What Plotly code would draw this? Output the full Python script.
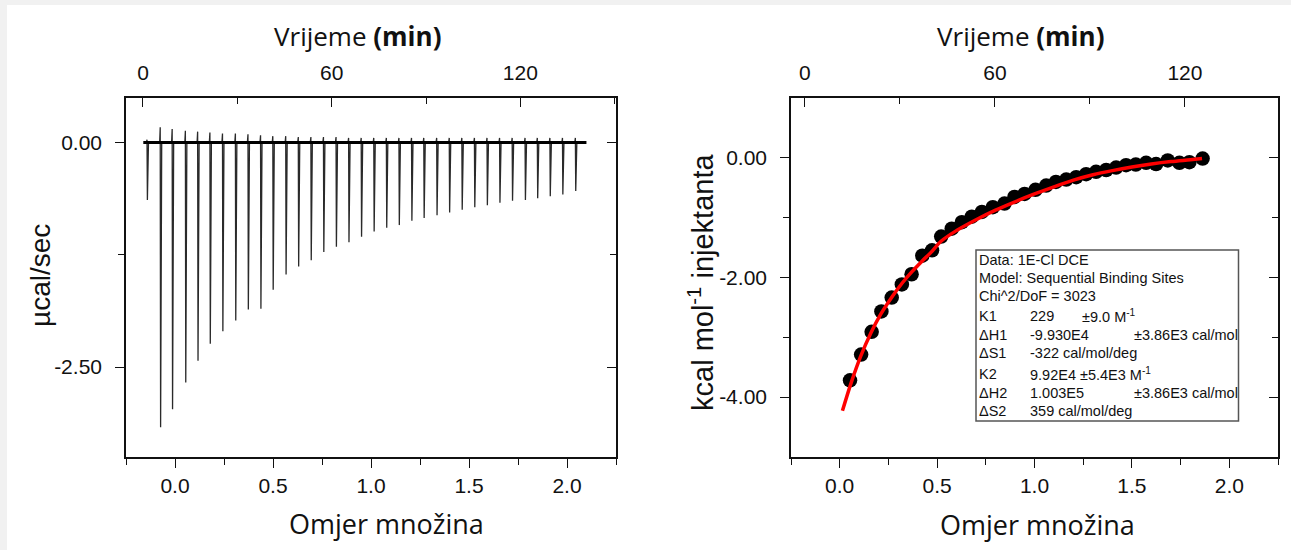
import plotly.graph_objects as go

W, H = 1291, 550

# ---------------- data ----------------
# left panel: raw thermogram (injection times in min, peak extremes in µcal/sec)
inj_time = [1.4, 5.6, 9.4, 13.6, 17.5, 21.4, 25.4, 29.5, 33.5, 37.5, 41.4, 45.5,
            49.5, 53.5, 57.5, 61.5, 65.5, 69.5, 73.5, 77.5, 81.5, 85.5, 89.4, 93.5,
            97.5, 101.5, 105.5, 109.5, 113.5, 117.5, 121.6, 125.5, 129.5, 133.5, 137.6]
inj_down = [-0.64, -3.17, -2.97, -2.67, -2.43, -2.24, -2.10, -1.98, -1.86, -1.85, -1.64, -1.47,
            -1.38, -1.31, -1.22, -1.16, -1.11, -1.05, -0.99, -0.95, -0.92, -0.87, -0.84, -0.81,
            -0.78, -0.75, -0.72, -0.70, -0.67, -0.65, -0.64, -0.62, -0.60, -0.58, -0.54]
inj_up = [0.03, 0.17, 0.15, 0.13, 0.12, 0.11, 0.10, 0.10, 0.09, 0.08, 0.07, 0.07,
          0.06, 0.06, 0.06, 0.06, 0.05, 0.05, 0.05, 0.05, 0.05, 0.05, 0.05, 0.05,
          0.05, 0.05, 0.05, 0.05, 0.05, 0.05, 0.05, 0.05, 0.05, 0.05, 0.05]
baseline_time = [0.1, 141.0]
baseline_val = [0.0, 0.0]

# right panel: integrated heats
ratio = [0.053, 0.110, 0.164, 0.214, 0.267, 0.319, 0.369, 0.424, 0.474, 0.521, 0.575, 0.627,
         0.678, 0.730, 0.786, 0.846, 0.897, 0.949, 1.005, 1.060, 1.110, 1.163, 1.214, 1.265,
         1.316, 1.368, 1.419, 1.470, 1.520, 1.573, 1.624, 1.684, 1.744, 1.795, 1.863]
heat = [-3.72, -3.29, -2.91, -2.57, -2.34, -2.12, -1.95, -1.64, -1.55, -1.32, -1.19, -1.08,
        -0.99, -0.91, -0.83, -0.77, -0.66, -0.61, -0.54, -0.47, -0.41, -0.37, -0.33, -0.28,
        -0.24, -0.21, -0.17, -0.13, -0.12, -0.09, -0.11, -0.05, -0.09, -0.08, -0.02]
fit_x = [0.014, 0.06, 0.11, 0.16, 0.21, 0.27, 0.32, 0.37, 0.42, 0.47, 0.52, 0.60, 0.70,
         0.80, 0.90, 1.00, 1.10, 1.20, 1.30, 1.40, 1.50, 1.60, 1.70, 1.80, 1.86]
fit_y = [-4.23, -3.75, -3.30, -2.93, -2.62, -2.32, -2.10, -1.91, -1.74, -1.58, -1.40, -1.22,
         -1.04, -0.88, -0.74, -0.61, -0.49, -0.38, -0.29, -0.22, -0.16, -0.11, -0.07, -0.04, -0.02]

ratio_ticks = [0.0, 0.5, 1.0, 1.5, 2.0]
ratio_labels = ["0.0", "0.5", "1.0", "1.5", "2.0"]
time_ticks = [0, 60, 120]
time_labels = ["0", "60", "120"]
left_y_ticks = [0.0, -2.5]
left_y_labels = ["0.00", "-2.50"]
right_y_ticks = [0.0, -2.0, -4.0]
right_y_labels = ["0.00", "-2.00", "-4.00"]

box_lines = [
    ["Data: 1E-Cl DCE"],
    ["Model: Sequential Binding Sites"],
    ["Chi^2/DoF = 3023"],
    ["K1", "229", "±9.0 M<sup>-1</sup>", ""],
    ["ΔH1", "-9.930E4", "", "±3.86E3 cal/mol"],
    ["ΔS1", "-322 cal/mol/deg"],
    ["K2", "9.92E4 ±5.4E3 M<sup>-1</sup>"],
    ["ΔH2", "1.003E5", "", "±3.86E3 cal/mol"],
    ["ΔS2", "359 cal/mol/deg"],
]

# ---------------- helpers ----------------
def px(x):
    return x / W

def py(y):
    return 1 - y / H

TICKFONT = dict(family="Liberation Sans, Arial", size=21, color="#111111")
TITLEFONT = dict(family="Open Sans, Noto Sans", size=26, color="#111111")
LINE = "#111111"

# spike trace built from the injection arrays
sx, sy = [], []
for t, u, d in zip(inj_time, inj_up, inj_down):
    sx += [t - 0.3, t - 0.12, t, t + 0.35, None]
    sy += [0.0, u, d, 0.0, None]

fig = go.Figure()

# left panel
fig.add_trace(go.Scatter(x=[None], y=[None], xaxis="x", yaxis="y", showlegend=False))
fig.add_trace(go.Scatter(x=[None], y=[None], xaxis="x", yaxis="y2", showlegend=False))
fig.add_trace(go.Scatter(x=sx, y=sy, xaxis="x2", yaxis="y", mode="lines",
                         line=dict(color="#2a2a2a", width=1.3), showlegend=False))
fig.add_trace(go.Scatter(x=baseline_time, y=baseline_val, xaxis="x2", yaxis="y", mode="lines",
                         line=dict(color="#000000", width=3), showlegend=False))

# right panel
fig.add_trace(go.Scatter(x=[None], y=[None], xaxis="x4", yaxis="y3", showlegend=False))
fig.add_trace(go.Scatter(x=[None], y=[None], xaxis="x3", yaxis="y4", showlegend=False))
fig.add_trace(go.Scatter(x=ratio, y=heat, xaxis="x3", yaxis="y3", mode="markers",
                         marker=dict(color="#000000", size=14.5, line=dict(width=0)),
                         showlegend=False))
fig.add_trace(go.Scatter(x=fit_x, y=fit_y, xaxis="x3", yaxis="y3", mode="lines",
                         line=dict(color="#ff0000", width=3.5, shape="spline"),
                         showlegend=False))

L_DOM = [px(126), px(616)]
R_DOM = [px(791), px(1278)]
Y_DOM = [py(457), py(97.5)]

common_axis = dict(showgrid=False, zeroline=False, showline=True, linecolor=LINE,
                   linewidth=1.6, tickcolor=LINE, tickwidth=1.4, tickfont=TICKFONT)

def bottom_axis(dom, anchor):
    return dict(common_axis, domain=dom, anchor=anchor, side="bottom", range=[-0.25, 2.25],
                tickvals=ratio_ticks, ticktext=ratio_labels, ticks="outside", ticklen=9,
                ticklabelstandoff=0,
                minor=dict(tickvals=[-0.25, 0.25, 0.75, 1.25, 1.75, 2.25], ticks="outside",
                           ticklen=6, tickcolor=LINE, tickwidth=1.4))

def top_axis(over, anchor, rng):
    return dict(common_axis, overlaying=over, anchor=anchor, side="top", range=rng,
                tickvals=time_ticks, ticktext=time_labels, ticks="inside", ticklen=10,
                ticklabelstandoff=7,
                minor=dict(tickvals=[30, 90, 150], ticks="inside", ticklen=7,
                           tickcolor=LINE, tickwidth=1.4))

def left_axis(anchor, rng, tv, tt, minor_tv):
    return dict(common_axis, domain=Y_DOM, anchor=anchor, side="left", range=rng,
                tickvals=tv, ticktext=tt, ticks="outside", ticklen=9, ticklabelstandoff=9,
                minor=dict(tickvals=minor_tv, ticks="outside", ticklen=6,
                           tickcolor=LINE, tickwidth=1.4))

def right_axis(over, anchor, rng, tv, minor_tv):
    return dict(common_axis, overlaying=over, anchor=anchor, side="right", range=rng,
                tickvals=tv, ticks="inside", ticklen=9, showticklabels=False,
                minor=dict(tickvals=minor_tv, ticks="inside", ticklen=6,
                           tickcolor=LINE, tickwidth=1.4))

fig.update_layout(
    width=W, height=H,
    margin=dict(l=0, r=0, t=0, b=0),
    paper_bgcolor="#f1f1f1",
    plot_bgcolor="rgba(0,0,0,0)",
    xaxis=bottom_axis(L_DOM, "y"),
    xaxis2=top_axis("x", "y", [-5.4, 150.4]),
    yaxis=left_axis("x", [-3.5, 0.5], left_y_ticks, left_y_labels, [-1.25]),
    yaxis2=right_axis("y", "x", [-3.5, 0.5], left_y_ticks, [-1.25]),
    xaxis3=bottom_axis(R_DOM, "y3"),
    xaxis4=top_axis("x3", "y3", [-4.4, 149.4]),
    yaxis3=left_axis("x3", [-5.0, 1.0], right_y_ticks, right_y_labels, [-1.0, -3.0]),
    yaxis4=right_axis("y3", "x3", [-5.0, 1.0], right_y_ticks, [-1.0, -3.0]),
)

shapes = [
    # white card on the light-grey page
    dict(type="rect", xref="paper", yref="paper", x0=px(7), x1=px(1291 + 5), y0=py(550 + 5), y1=py(5),
         fillcolor="#ffffff", line=dict(width=0), layer="below"),
    # parameter box
    dict(type="rect", xref="paper", yref="paper", x0=px(976), x1=px(1238.5), y0=py(421), y1=py(250),
         fillcolor="rgba(0,0,0,0)", line=dict(color="#555555", width=1.5)),
]
fig.update_layout(shapes=shapes)

ann = []
def title(text, x, y, angle=0, font=TITLEFONT):
    ann.append(dict(text=text, x=px(x), y=py(y), xref="paper", yref="paper", showarrow=False,
                    textangle=angle, font=font, xanchor="center", yanchor="middle"))

title("Vrijeme <b>(min)</b>", 357, 36)
title("Vrijeme <b>(min)</b>", 1020, 36)
title("Omjer množina", 386, 523, font=dict(TITLEFONT, size=27))
title("Omjer množina", 1037, 524, font=dict(TITLEFONT, size=27))
title("µcal/sec", 40, 276, -90, dict(family="Liberation Sans, Arial", size=28, color="#111111"))
title("kcal mol<sup>-1</sup> injektanta", 701, 283, -90,
      dict(family="Liberation Sans, Arial", size=29, color="#111111"))

BOXFONT = dict(family="Liberation Sans, Arial", size=14.5, color="#111111")
line_y = [260, 278, 296, 316, 335, 353, 374, 393, 411]
col_x = [977, 1028, 1080, 1132]
for row, yy in zip(box_lines, line_y):
    for txt, xx in zip(row, col_x):
        if txt:
            ann.append(dict(text=txt, x=px(xx), y=py(yy), xref="paper", yref="paper",
                            showarrow=False, font=BOXFONT, xanchor="left", yanchor="middle"))
fig.update_layout(annotations=ann)

fig.write_html("out.html", config={"displayModeBar": False},
               post_script="document.body.style.margin='0';document.body.style.overflow='hidden';")
